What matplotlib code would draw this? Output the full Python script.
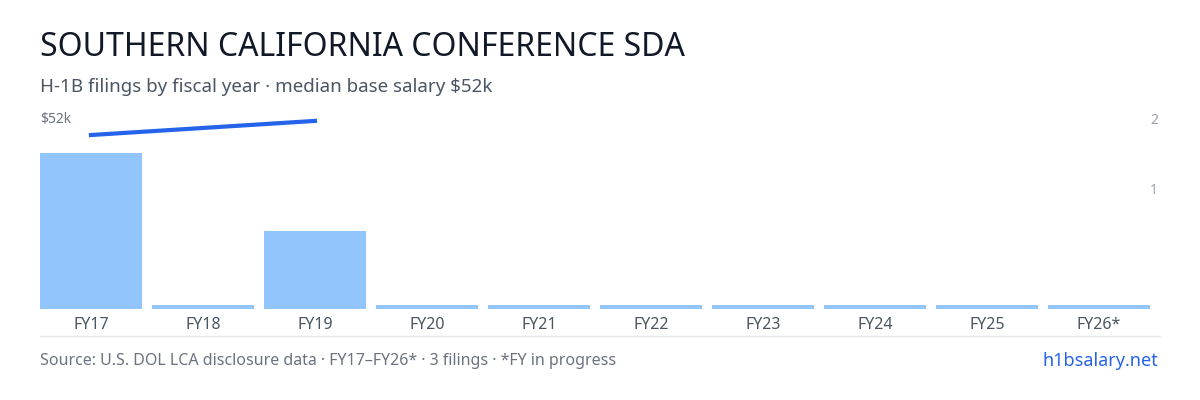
import matplotlib
matplotlib.use("Agg")
import matplotlib.pyplot as plt

years = ["FY17","FY18","FY19","FY20","FY21","FY22","FY23","FY24","FY25","FY26*"]
filings = [2,0,1,0,0,0,0,0,0,0]
salary_years = [0, 2]
salary_k = [50.0, 53.5]

plt.rcParams['font.family'] = ['Noto Sans', 'DejaVu Sans']
W, H = 1200, 400
fig = plt.figure(figsize=(12, 4), dpi=100)
ax = fig.add_axes([40/W, 1-309/H, 1110/W, 199/H])
vals = [v if v > 0 else 0.05 for v in filings]
ax.bar(range(len(years)), vals, width=0.91, color="#93c5fd")
ax.set_xlim(-0.455, len(years)-1+0.455)
ax.set_ylim(0, 2*199/156)
ax.set_xticks(range(len(years)))
ax.set_xticklabels(years, fontsize=11.5, color="#4b5563")
ax.tick_params(axis='x', length=0, pad=6)
ax.set_yticks([])
for s in ax.spines.values():
    s.set_visible(False)

ax2 = ax.twinx()
ax2.plot(salary_years, salary_k, color="#2563eb", lw=3)
ax2.set_ylim(6.9, 56.2)
ax2.set_yticks([])
for s in ax2.spines.values():
    s.set_visible(False)

fig.add_artist(plt.Line2D([40/W, 1160/W], [1-336/H]*2, color="#e5e7eb", lw=1))
fig.text(40/W, 1-47/H, "SOUTHERN CALIFORNIA CONFERENCE SDA", fontsize=23, color="#111827", va='center')
fig.text(40/W, 1-87/H, "H-1B filings by fiscal year · median base salary $52k", fontsize=13.5, color="#4b5563", va='center')
fig.text(40/W, 1-120/H, "$52k", fontsize=10, color="#6b7280", va='center')
fig.text(1158/W, 1-120/H, "2", fontsize=10, color="#9ca3af", va='center', ha='right')
fig.text(1158/W, 1-190/H, "1", fontsize=10, color="#9ca3af", va='center', ha='right')
fig.text(40/W, 1-361/H, "Source: U.S. DOL LCA disclosure data · FY17–FY26* · 3 filings · *FY in progress", fontsize=11.5, color="#6b7280", va='center')
fig.text(1158/W, 1-361/H, "h1bsalary.net", fontsize=13, color="#2563eb", va='center', ha='right')
fig.savefig("out.png", dpi=100)
